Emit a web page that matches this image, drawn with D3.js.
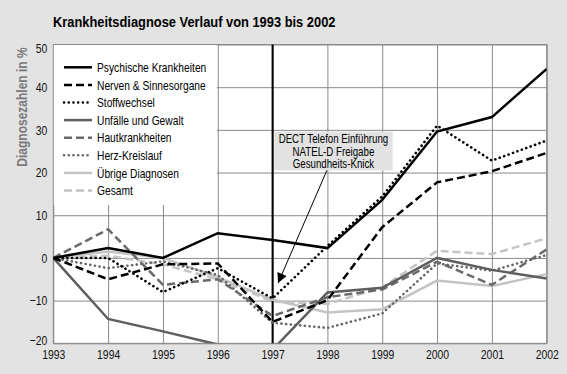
<!DOCTYPE html>
<html>
<head>
<meta charset="utf-8">
<script src="https://cdn.jsdelivr.net/npm/d3@7"></script>
<style>
    body { margin: 0; background: #e3e3e3; }
    svg { display: block; font-family: "Liberation Sans", Arial, sans-serif; }
    .axis path { display: none; }
    .axis line { stroke: #8a8a8a; stroke-width: 1; }
    .axis text { font-size: 13px; fill: #111; font-family: "Liberation Sans", Arial, sans-serif; }
</style>
</head>
<body>
<svg id="chart" width="567" height="374"></svg>
<script>
// values (change in % vs 1993)
let years = [1993, 1994, 1995, 1996, 1997, 1998, 1999, 2000, 2001, 2002];
let yTicks = [-20, -10, 0, 10, 20, 30, 40, 50];

let psychisch = [0, 2.3, 0, 5.8, 4.2, 2.3, 13.6, 29.6, 33, 44.3];
let nerven = [0, -5, -1.5, -1.3, -15, -9.9, 7.2, 17.7, 20.3, 24.6];
let stoffwechsel = [0, 0, -8, -2.4, -9.5, 2.8, 14.4, 31, 22.8, 27.5];
let unfaelle = [0, -14.3, -17.2, -20.3, -21.5, -8.1, -7, 0, -2.8, -4.8];
let haut = [0, 6.7, -6.3, -5, -13.6, -9.2, -7.4, -0.9, -6.3, 2];
let herz = [0, -2.4, -0.8, -4, -15.2, -16.4, -13, -1.3, -3, 0.7];
let uebrige = [0, 1.5, 0, -4.5, -9.8, -12.8, -12, -5.3, -6.6, -3.8];
let gesamt = [0, 0.5, -1.5, -5, -10.2, -10.8, -6.9, 1.7, 0.9, 4.6];

let seriesNames = ["Psychische Krankheiten", "Nerven & Sinnesorgane", "Stoffwechsel",
    "Unfälle und Gewalt", "Hautkrankheiten", "Herz-Kreislauf", "Übrige Diagnosen", "Gesamt"];
let seriesValues = [psychisch, nerven, stoffwechsel, unfaelle, haut, herz, uebrige, gesamt];

let noteLines = ["DECT Telefon Einführung", "NATEL-D Freigabe", "Gesundheits-Knick"];
let noteYear = 1997;

// line styles per series
let styles = [
    {color: "#000", dash: null, cap: "butt"},
    {color: "#000", dash: "8,4", cap: "butt"},
    {color: "#000", dash: "0.1,4.6", cap: "round"},
    {color: "#5e5e5e", dash: null, cap: "butt"},
    {color: "#6a6a6a", dash: "8,4", cap: "butt"},
    {color: "#666", dash: "0.1,4.6", cap: "round"},
    {color: "#c4c4c4", dash: null, cap: "butt"},
    {color: "#c4c4c4", dash: "8,4", cap: "butt"}
];

// the original uses a condensed grotesk; squeeze Liberation Sans to match
function condense(sel, factor) {
    sel.each(function () {
        let w = this.getComputedTextLength();
        d3.select(this).attr("textLength", w * factor).attr("lengthAdjust", "spacingAndGlyphs");
    });
}

let svg = d3.select('#chart');
let plot = {left: 53.3, right: 546.7, top: 44.5, bottom: 343.3};

let xScale = d3.scaleLinear().domain([1993, 2002]).range([plot.left, plot.right]);
let yScale = d3.scaleLinear().domain([-20, 50]).range([plot.bottom, plot.top]);

// plot background
svg.append("rect")
    .attr("x", plot.left).attr("y", plot.top)
    .attr("width", plot.right - plot.left).attr("height", plot.bottom - plot.top)
    .attr("fill", "#fff");

// grid + tick labels
let xAxis = d3.axisBottom(xScale).tickValues(years).tickFormat(d3.format("d"))
    .tickSize(-(plot.bottom - plot.top)).tickPadding(6);
let xG = svg.append("g").attr("class", "axis")
    .attr("transform", "translate(0," + plot.bottom + ")")
    .call(xAxis);
condense(xG.selectAll(".tick text"), 0.8);

let yAxis = d3.axisLeft(yScale).tickValues(yTicks)
    .tickSize(-(plot.right - plot.left)).tickPadding(6);
let yG = svg.append("g").attr("class", "axis")
    .attr("transform", "translate(" + plot.left + ",0)")
    .call(yAxis);
// keep the outer labels inside the frame height like the original
yG.selectAll(".tick text").attr("dy", function (d) {
    if (d === 50) return "0.62em";
    if (d === -20) return "0.1em";
    return "0.32em";
});
condense(yG.selectAll(".tick text"), 0.8);

// frame
svg.append("rect")
    .attr("x", plot.left).attr("y", plot.top)
    .attr("width", plot.right - plot.left).attr("height", plot.bottom - plot.top)
    .attr("fill", "none").attr("stroke", "#8a8a8a").attr("stroke-width", 1);

// legend box hides the grid in the top left corner
let legend = svg.append("g");
legend.append("rect")
    .attr("x", plot.left + 0.5).attr("y", plot.top + 0.5)
    .attr("width", xScale(1996) - plot.left - 1.5).attr("height", 160)
    .attr("fill", "#fff");

// vertical marker line
svg.append("line")
    .attr("x1", xScale(noteYear)).attr("x2", xScale(noteYear))
    .attr("y1", plot.top).attr("y2", plot.bottom)
    .attr("stroke", "#000").attr("stroke-width", 2);

// note box
let noteBox = {x0: 1997.03, x1: 1999.19, y0: 29.6, y1: 20.5};
svg.append("rect")
    .attr("x", xScale(noteBox.x0)).attr("y", yScale(noteBox.y0))
    .attr("width", xScale(noteBox.x1) - xScale(noteBox.x0))
    .attr("height", yScale(noteBox.y1) - yScale(noteBox.y0))
    .attr("fill", "#e2e2e2");
let noteText = svg.append("g").selectAll("text")
    .data(noteLines).enter()
    .append("text")
    .attr("x", (xScale(noteBox.x0) + xScale(noteBox.x1)) / 2)
    .attr("y", function (d, i) { return yScale(noteBox.y0) + 11.3 + i * 12.7; })
    .attr("text-anchor", "middle")
    .style("font-size", "12.6px")
    .text(function (d) { return d; });
condense(noteText, 0.77);

// arrow
svg.append("defs").append("marker")
    .attr("id", "arrow").attr("viewBox", "0 0 10 10")
    .attr("refX", 10).attr("refY", 5)
    .attr("markerWidth", 14).attr("markerHeight", 10)
    .attr("markerUnits", "userSpaceOnUse")
    .attr("orient", "auto")
    .append("path").attr("d", "M0,0 L10,5 L0,10 Z").attr("fill", "#000");
svg.append("line")
    .attr("x1", xScale(1997.99)).attr("y1", yScale(noteBox.y1))
    .attr("x2", xScale(1997.1)).attr("y2", yScale(-5.9))
    .attr("stroke", "#000").attr("stroke-width", 1)
    .attr("marker-end", "url(#arrow)");

// clip for the lines
svg.select("defs").append("clipPath").attr("id", "plotClip")
    .append("rect")
    .attr("x", plot.left).attr("y", plot.top)
    .attr("width", plot.right - plot.left).attr("height", plot.bottom - plot.top);

let line = d3.line()
    .x(function (d, i) { return xScale(years[i]); })
    .y(function (d) { return yScale(d); });

// draw back to front (light series first)
let order = [7, 6, 5, 4, 3, 2, 1, 0];
svg.append("g").attr("clip-path", "url(#plotClip)")
    .selectAll("path")
    .data(order).enter()
    .append("path")
    .attr("d", function (k) { return line(seriesValues[k]); })
    .attr("fill", "none")
    .attr("stroke", function (k) { return styles[k].color; })
    .attr("stroke-width", function (k) { return styles[k].dash === "0.1,4.6" ? 2.6 : 2.5; })
    .attr("stroke-dasharray", function (k) { return styles[k].dash; })
    .attr("stroke-linecap", function (k) { return styles[k].cap; })
    .attr("stroke-linejoin", "miter");

// legend entries
let rows = legend.selectAll(".legendRow")
    .data(seriesNames).enter()
    .append("g")
    .attr("class", "legendRow")
    .attr("transform", function (d, i) { return "translate(0," + (67.3 + i * 17.6) + ")"; });
rows.append("line")
    .attr("x1", 64).attr("x2", 92).attr("y1", 0).attr("y2", 0)
    .attr("stroke", function (d, i) { return styles[i].color; })
    .attr("stroke-width", 2.5)
    .attr("stroke-dasharray", function (d, i) { return styles[i].dash; })
    .attr("stroke-linecap", function (d, i) { return styles[i].cap; });
let legendText = rows.append("text")
    .attr("x", 97).attr("dy", "0.36em")
    .style("font-size", "13.3px")
    .text(function (d) { return d; });
condense(legendText, 0.77);

// title
let title = svg.append("text")
    .attr("x", 53).attr("y", 26.5)
    .style("font-size", "15.5px").style("font-weight", "bold")
    .text("Krankheitsdiagnose Verlauf von 1993 bis 2002");
condense(title, 0.83);

// y axis title
let yTitle = svg.append("text")
    .attr("transform", "translate(27,107) rotate(-90)")
    .attr("text-anchor", "middle")
    .style("font-size", "15px").style("font-weight", "bold")
    .attr("fill", "#7a7a7a")
    .text("Diagnosezahlen in %");
condense(yTitle, 0.8);
</script>
</body>
</html>
